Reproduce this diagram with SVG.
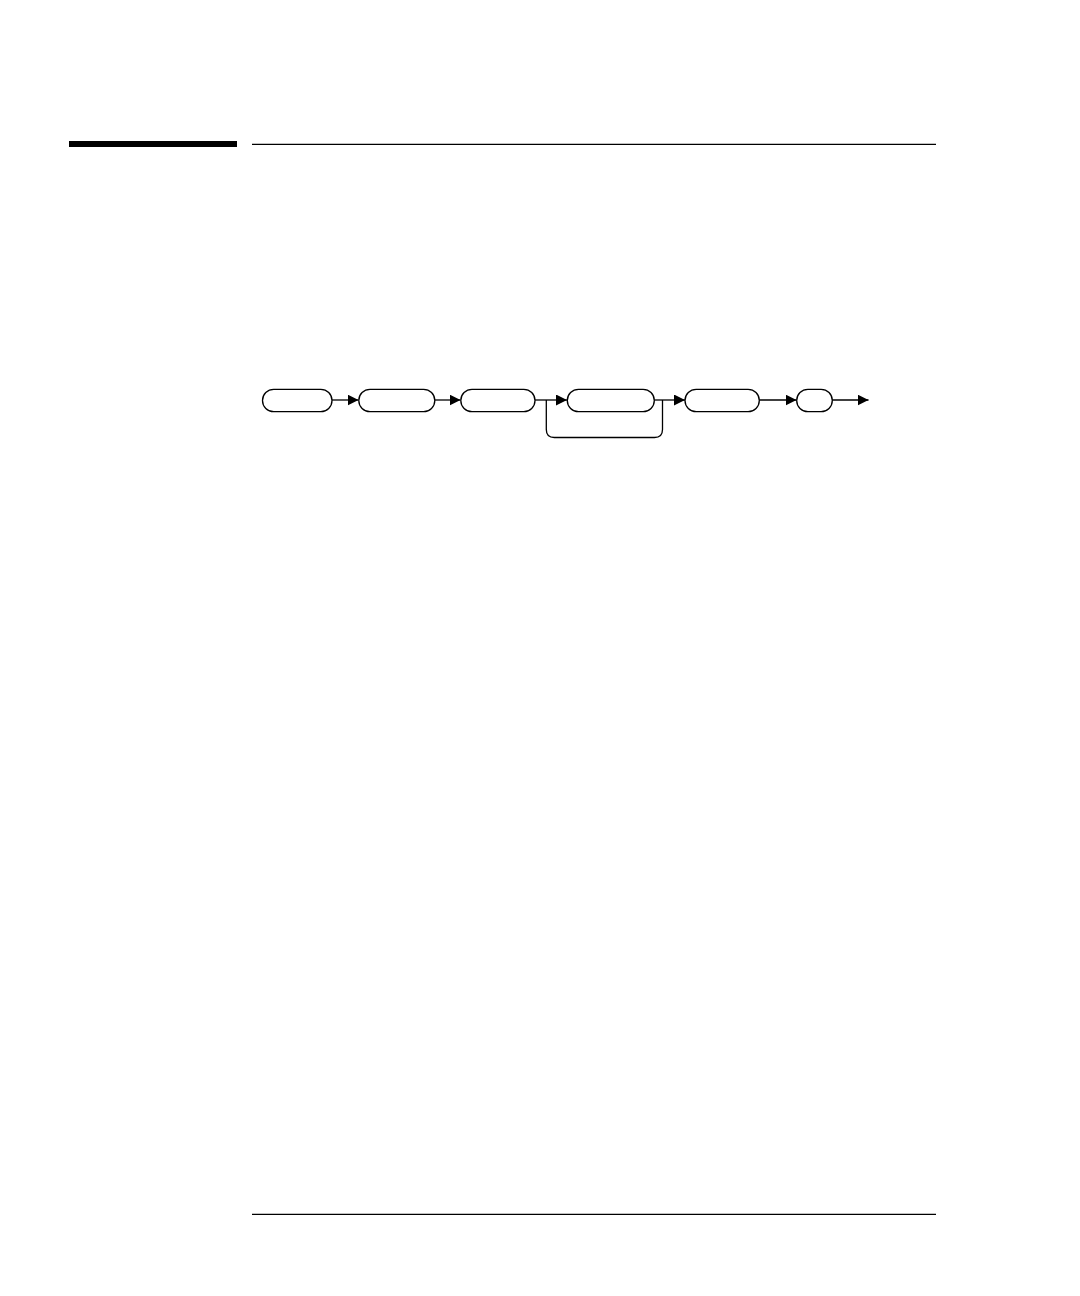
<svg xmlns="http://www.w3.org/2000/svg" width="1080" height="1296" viewBox="0 0 1080 1296">
<style>
.node{fill:#fff;stroke:#000;stroke-width:1.3}
.conn{fill:none;stroke:#000;stroke-width:1.3}
.rule{stroke:#000;stroke-width:1.3}
</style>
<defs>
<marker id="ah" markerUnits="userSpaceOnUse" markerWidth="11" markerHeight="11" viewBox="0 0 11 11" refX="11" refY="5.5" orient="auto">
<path d="M0,0 L11,5.5 L0,11 Z" fill="#000"/>
</marker>
</defs>
<rect x="69" y="141" width="168" height="6" fill="#000"/>
<line class="rule" x1="252" y1="144.3" x2="936" y2="144.3"/>
<line class="rule" x1="252" y1="1214.3" x2="936" y2="1214.3"/>
<g id="connectors">
<line class="conn" x1="332" y1="400" x2="358.5" y2="400" marker-end="url(#ah)"/>
<line class="conn" x1="435" y1="400" x2="460.5" y2="400" marker-end="url(#ah)"/>
<line class="conn" x1="535" y1="400" x2="567" y2="400" marker-end="url(#ah)"/>
<line class="conn" x1="654" y1="400" x2="685" y2="400" marker-end="url(#ah)"/>
<line class="conn" x1="759" y1="400" x2="796.5" y2="400" marker-end="url(#ah)"/>
<line class="conn" x1="832" y1="400" x2="868.5" y2="400" marker-end="url(#ah)"/>
<path class="conn" d="M546.3,400 V429.5 Q546.3,437.5 554.3,437.5 H654.5 Q662.5,437.5 662.5,429.5 V400"/>
</g>
<g id="n1"><rect class="node" x="262.5" y="389.3" width="69.5" height="22.4" rx="11.2"/></g>
<g id="n2"><rect class="node" x="358.8" y="389.3" width="76" height="22.4" rx="11.2"/></g>
<g id="n3"><rect class="node" x="460.8" y="389.3" width="74.2" height="22.4" rx="11.2"/></g>
<g id="n4"><rect class="node" x="567.3" y="389.3" width="87" height="22.4" rx="11.2"/></g>
<g id="n5"><rect class="node" x="685" y="389.3" width="74.3" height="22.4" rx="11.2"/></g>
<g id="n6"><rect class="node" x="796.7" y="389.3" width="35.6" height="22.4" rx="11.2"/></g>
</svg>
